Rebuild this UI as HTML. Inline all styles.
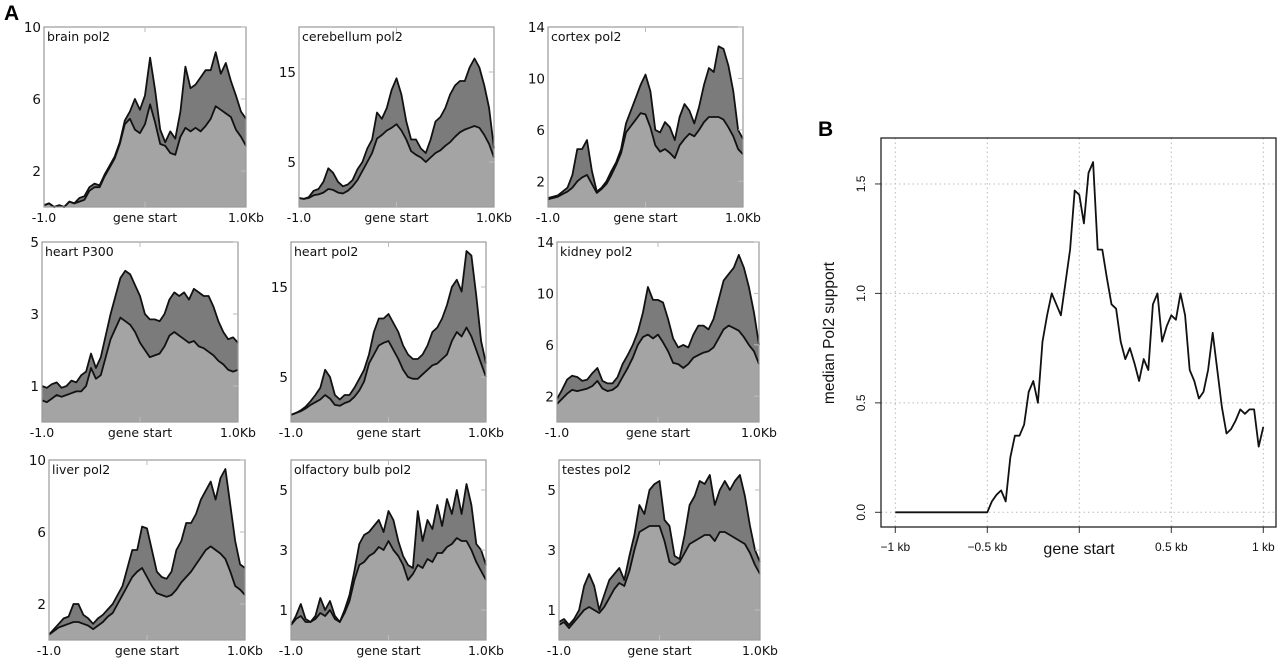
<!DOCTYPE html>
<html><head><meta charset="utf-8"><style>
html,body{margin:0;padding:0;background:#fff;}
svg{display:block;}
.a{font-family:"DejaVu Sans",sans-serif;font-size:12.5px;fill:#111;}
.ay{font-family:"DejaVu Sans",sans-serif;font-size:13.5px;fill:#111;}
.b{font-family:"Liberation Sans",sans-serif;fill:#111;}
</style></head><body>
<svg id="fig" width="1280" height="659" viewBox="0 0 1280 659" xmlns="http://www.w3.org/2000/svg">
<text x="4" y="20" font-family="Liberation Sans,sans-serif" font-weight="bold" font-size="21">A</text>
<text x="818" y="136" font-family="Liberation Sans,sans-serif" font-weight="bold" font-size="21">B</text>
</svg>
<script>
const NS='http://www.w3.org/2000/svg';
const svg=document.getElementById('fig');
const xs=[];for(let i=0;i<=40;i++)xs.push(-1+i*0.05);

const panelTitles=['brain  pol2','cerebellum  pol2','cortex  pol2','heart  P300','heart  pol2','kidney  pol2','liver  pol2','olfactory  bulb  pol2','testes  pol2'];
const panelYMax=[10,20,14,5,20,14,10,6,6];
const panelTicks=[[2,6,10],[5,15],[2,6,10,14],[1,3,5],[5,15],[2,6,10,14],[2,6,10],[1,3,5],[1,3,5]];

const brainUpper=[0.1,0.2,0,0.1,0,0.3,0.2,0.5,0.6,1.1,1.3,1.2,1.8,2.3,2.8,3.6,4.8,5.3,6.0,5.4,6.2,8.3,6.5,4.3,3.6,4.2,3.8,5.3,7.8,6.6,6.8,7.2,7.6,7.6,8.6,7.4,8.0,7.0,6.2,5.3,4.9];
const brainLower=[0.1,0.2,0,0.1,0,0.3,0.2,0.3,0.4,0.9,1.1,1.1,1.7,2.2,2.7,3.5,4.6,4.9,4.3,4.1,4.6,5.7,4.7,3.5,3.4,3.0,2.9,3.9,4.4,4.2,4.4,4.2,4.5,4.9,5.6,5.4,5.2,5.0,4.3,3.9,3.4];
const cerebUpper=[1,0.9,1.1,1.8,2.0,2.8,4.3,3.8,2.8,2.3,2.5,3.0,4.2,5.0,6.5,7.5,10.5,9.8,11.0,13.0,14.3,12.5,9.5,7.5,7.5,6.5,6.0,7.5,9.5,10.0,11.0,12.5,13.5,14.0,14.0,15.5,16.5,15.5,13.5,11.0,6.5];
const cerebLower=[1,0.9,1.0,1.3,1.4,1.6,2.0,1.9,1.6,1.5,1.8,2.3,3.0,4.0,5.0,6.0,7.6,8.0,8.5,8.8,9.2,8.5,7.5,6.2,5.8,5.5,5.0,5.5,6.0,6.3,6.8,7.2,7.8,8.3,8.6,8.8,9.0,8.8,8.0,7.0,5.5];
const cortexUpper=[0.7,0.8,0.9,1.2,1.5,2.5,4.5,4.5,5.2,2.8,1.2,1.5,2.0,2.8,3.5,4.5,6.5,7.5,8.5,9.5,10.3,9.0,6.0,5.8,6.6,6.2,5.2,7.0,8.0,7.5,6.5,7.8,9.5,10.8,10.5,12.5,12.3,11.0,9.0,6.0,5.3];
const cortexLower=[0.6,0.7,0.8,1.0,1.2,1.5,2.0,2.3,2.5,1.8,1.1,1.4,1.8,2.5,3.3,4.2,5.8,6.3,6.8,7.3,7.2,6.2,4.8,4.3,4.5,4.2,3.8,4.8,5.3,5.7,5.5,6.0,6.6,7.0,7.0,7.0,6.8,6.2,5.5,4.5,4.1];
const p300Upper=[1.0,0.95,1.05,1.1,0.95,1.0,1.15,1.1,1.3,1.4,1.9,1.5,1.8,2.4,3.0,3.5,4.0,4.2,4.1,3.8,3.5,3.0,2.85,2.85,2.8,3.0,3.4,3.6,3.5,3.6,3.4,3.7,3.6,3.5,3.5,3.2,2.8,2.5,2.3,2.35,2.2];
const p300Lower=[0.6,0.55,0.65,0.75,0.7,0.75,0.8,0.85,0.85,1.0,1.5,1.2,1.3,1.8,2.3,2.6,2.9,2.8,2.7,2.5,2.2,2.0,1.8,1.85,1.9,2.1,2.4,2.5,2.4,2.3,2.2,2.25,2.1,2.05,1.95,1.85,1.7,1.6,1.45,1.4,1.45];
const heartUpper=[0.8,1.0,1.3,1.7,2.3,3.0,3.8,5.8,5.0,3.0,2.5,3.0,3.0,3.8,4.8,5.8,7.5,10.0,11.5,11.5,12.0,11.0,10.0,8.5,7.5,7.0,7.0,7.5,8.5,10.0,10.5,11.5,13.0,15.0,15.8,14.5,19.0,18.5,14.0,9.0,6.5];
const heartLower=[0.8,1.0,1.2,1.5,1.9,2.2,2.5,3.0,2.6,1.9,1.8,2.1,2.3,2.8,3.5,4.5,6.5,7.5,8.5,8.8,9.0,8.0,7.0,5.8,5.0,4.8,4.8,5.3,5.8,6.3,6.5,7.0,7.5,9.0,10.0,9.5,10.5,9.5,8.0,6.5,5.0];
const kidneyUpper=[1.8,2.5,3.3,3.6,3.5,3.2,3.3,3.8,4.2,3.2,3.0,3.0,3.5,4.5,5.2,6.0,7.0,8.5,10.5,9.5,9.5,9.3,8.0,6.5,5.8,6.0,5.8,6.8,7.5,7.5,7.2,8.0,9.5,11.0,11.5,12.0,13.0,12.0,10.5,8.5,6.0];
const kidneyLower=[1.4,1.8,2.2,2.5,2.4,2.5,2.6,2.8,3.2,2.6,2.4,2.5,2.8,3.5,4.2,5.0,6.0,6.6,6.8,6.5,6.8,6.2,5.5,4.6,4.5,4.2,4.5,5.0,5.2,5.4,5.5,5.8,6.5,7.2,7.5,7.3,7.1,6.6,6.0,5.5,4.5];
const liverUpper=[0.3,0.6,0.9,1.2,1.3,2.0,2.0,1.4,1.2,0.9,1.2,1.4,1.7,2.0,2.5,3.0,4.0,5.0,5.0,6.3,6.2,5.0,3.8,3.5,3.4,3.8,5.0,5.5,6.5,6.5,7.0,7.8,8.3,8.8,7.8,9.0,9.5,7.5,5.5,4.2,4.0];
const liverLower=[0.3,0.5,0.7,0.8,0.9,1.0,1.0,0.9,0.8,0.6,0.8,1.0,1.3,1.5,2.0,2.5,3.0,3.5,3.8,4.0,3.5,3.0,2.6,2.5,2.4,2.5,2.8,3.2,3.5,3.8,4.2,4.6,5.0,5.2,5.0,4.8,4.5,3.8,3.0,2.8,2.5];
const olfUpper=[0.5,0.8,1.2,0.7,0.6,0.8,1.4,1.0,1.3,0.8,0.6,1.0,1.5,2.3,3.2,3.5,3.6,3.8,4.0,3.6,4.3,4.0,3.3,2.8,2.5,2.4,4.3,3.3,4.0,3.7,4.5,3.8,4.7,4.2,5.0,4.2,5.2,4.5,3.2,3.0,2.5];
const olfLower=[0.5,0.7,0.8,0.6,0.6,0.7,0.9,0.8,1.0,0.7,0.6,0.9,1.3,2.0,2.5,2.6,2.8,2.9,3.1,3.0,3.3,3.0,2.8,2.5,2.0,2.2,2.5,2.4,2.7,2.6,2.9,2.9,3.1,3.2,3.4,3.3,3.3,3.0,2.6,2.3,2.0];
const testesUpper=[0.6,0.7,0.5,0.7,1.0,1.8,2.2,1.8,1.0,1.5,2.0,2.2,2.4,2.0,2.8,3.5,4.5,4.2,5.0,5.2,5.3,4.0,3.8,2.8,2.7,3.5,4.5,4.8,5.3,5.2,5.5,4.5,5.0,5.3,5.0,5.3,5.5,4.8,3.8,3.0,2.6];
const testesLower=[0.5,0.6,0.4,0.6,0.8,1.0,1.1,1.0,0.9,1.1,1.4,1.7,1.9,1.8,2.3,3.0,3.6,3.7,3.8,3.8,3.8,3.3,2.6,2.5,2.6,2.9,3.2,3.3,3.4,3.5,3.5,3.3,3.6,3.6,3.5,3.4,3.3,3.2,2.9,2.5,2.2];

const uppers=[brainUpper,cerebUpper,cortexUpper,p300Upper,heartUpper,kidneyUpper,liverUpper,olfUpper,testesUpper];
const lowers=[brainLower,cerebLower,cortexLower,p300Lower,heartLower,kidneyLower,liverLower,olfLower,testesLower];

const boxes=[[44,27,246,207],[299,27,494,207],[548,27,743,207],
             [42,242,238,422],[291,242,486,422],[557,242,759,422],
             [49,460,245,640],[291,460,486,640],[559,460,760,640]];

function mk(tag,attrs,parent){const e=document.createElementNS(NS,tag);for(const k in attrs)e.setAttribute(k,attrs[k]);(parent||svg).appendChild(e);return e;}

boxes.forEach((b,p)=>{
  const [L,T,R,B]=b;
  const g=mk('g',{});
  
  
  const sx=x=>L+(x+1)/2*(R-L);
  const sy=v=>B-v/panelYMax[p]*(B-T);
  const up=uppers[p], lo=lowers[p];
  const upPts=xs.map((x,i)=>sx(x).toFixed(1)+','+sy(up[i]).toFixed(1));
  const loPts=xs.map((x,i)=>sx(x).toFixed(1)+','+sy(lo[i]).toFixed(1));
  const base=sx(1)+','+B+' '+sx(-1)+','+B;
  const f1=mk('polygon',{points:upPts.join(' ')+' '+base,fill:'#7b7b7b'},g);
  
  
  const f2=mk('polygon',{points:loPts.join(' ')+' '+base,fill:'#a4a4a4'},g);
  
  
  const l1=mk('polyline',{points:upPts.join(' '),fill:'none',stroke:'#111','stroke-width':1.8,'stroke-linejoin':'round'},g);
  
  
  const l2=mk('polyline',{points:loPts.join(' '),fill:'none',stroke:'#111','stroke-width':1.8,'stroke-linejoin':'round'},g);
  
  
  const fr=mk('rect',{x:L,y:T,width:R-L,height:B-T,fill:'none',stroke:'#9a9a9a','stroke-width':1.2},g);
  
  
  const M=(L+R)/2;
  mk('line',{x1:M,y1:T,x2:M,y2:T+5,stroke:'#bbb'},g);
  mk('line',{x1:M,y1:B,x2:M,y2:B-5,stroke:'#bbb'},g);
  panelTicks[p].forEach(t=>{
    const y=sy(t);
    mk('line',{x1:R,y1:y,x2:R-5,y2:y,stroke:'#bbb'},g);
    const tx=mk('text',{x:L-3,y:y+5,'text-anchor':'end',class:'ay'},g);
    tx.textContent=t;
    
    
  });
  const labs=[['-1.0',L,'middle'],['gene start',M,'middle'],['1.0Kb',R,'middle']];
  labs.forEach(a=>{
    const tx=mk('text',{x:a[1],y:B+15,'text-anchor':a[2],class:'a'},g);
    tx.textContent=a[0];
    
    
  });
  const ti=mk('text',{x:L+3,y:T+14,class:'a'},g);
  ti.textContent=panelTitles[p].replace(/  /g,' ');
  
  
});

const bXTickVals=[-1,-0.5,0,0.5,1];
const bXTickLabels=['\u22121 kb','\u22120.5 kb','','0.5 kb','1 kb'];
const bYTicks=[0,0.5,1.0,1.5];
const bYTickLabels=['0.0','0.5','1.0','1.5'];
const bZeros=new Array(20).fill(0);
const bTail=[0,0.05,0.08,0.1,0.05,0.25,0.35,0.35,0.4,0.55,0.6,0.5,0.78,0.9,1.0,0.95,0.9,1.05,1.2,1.47,1.45,1.32,1.55,1.6,1.2,1.2,1.07,0.95,0.93,0.78,0.7,0.75,0.68,0.6,0.7,0.65,0.95,1.0,0.78,0.85,0.9,0.88,1.0,0.9,0.65,0.6,0.52,0.55,0.65,0.82,0.65,0.48,0.36,0.38,0.42,0.47,0.45,0.47,0.47,0.3,0.39];
const bValues=bZeros.concat(bTail);
const bX=[];for(let i=0;i<bValues.length;i++)bX.push(-1+i*0.025);

(function(){
  const L=881,T=138,R=1276,B=527;
  const sx=x=>895.3+(x+1)/2*(1263.3-895.3);
  const sy=v=>512.3-v*218.9;
  const g=mk('g',{});
  
  
  bXTickVals.forEach((v,i)=>{
    const x=sx(v);
    mk('line',{x1:x,y1:T,x2:x,y2:B,stroke:'#bbb','stroke-dasharray':'1.5,3'},g);
    mk('line',{x1:x,y1:B,x2:x,y2:B+6,stroke:'#333'},g);
    if(bXTickLabels[i]){
      const t=mk('text',{x:x,y:551,'text-anchor':'middle',class:'b','font-size':12},g);
      t.textContent=bXTickLabels[i];
      
      
    }
  });
  bYTicks.forEach((v,i)=>{
    const y=sy(v);
    mk('line',{x1:L,y1:y,x2:R,y2:y,stroke:'#bbb','stroke-dasharray':'1.5,3'},g);
    mk('line',{x1:L,y1:y,x2:L-6,y2:y,stroke:'#333'},g);
    const t=mk('text',{x:0,y:0,'text-anchor':'middle',class:'b','font-size':12,transform:'translate(865,'+y+') rotate(-90)'},g);
    t.textContent=bYTickLabels[i];
    
    
  });
  const fr=mk('rect',{x:L,y:T,width:R-L,height:B-T,fill:'none',stroke:'#222','stroke-width':1.3},g);
  
  
  const ln=mk('polyline',{points:bX.map((x,i)=>sx(x).toFixed(1)+','+sy(bValues[i]).toFixed(1)).join(' '),fill:'none',stroke:'#111','stroke-width':1.8,'stroke-linejoin':'round'},g);
  
  
  const xt=mk('text',{x:1079,y:554,'text-anchor':'middle',class:'b','font-size':16},g);
  xt.textContent='gene start';
  
  
  const yt=mk('text',{x:0,y:0,'text-anchor':'middle',class:'b','font-size':15.5,transform:'translate(834,333) rotate(-90)'},g);
  yt.textContent='median Pol2 support';
  
  
})();
</script>
</body></html>
